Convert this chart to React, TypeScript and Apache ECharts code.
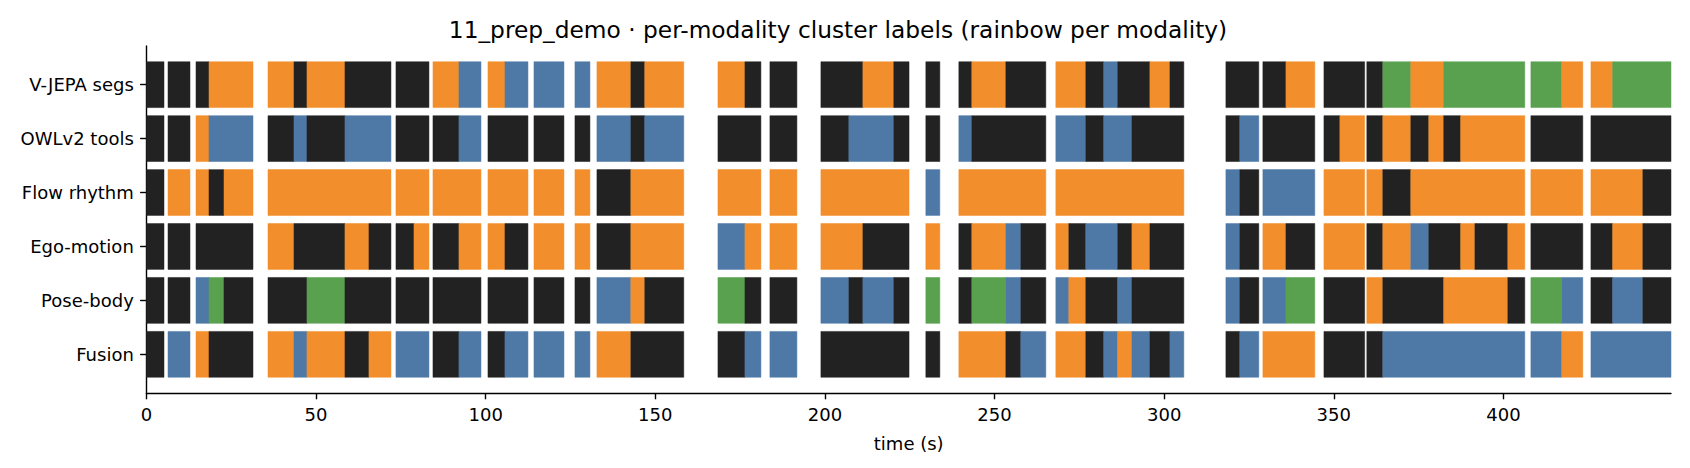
import React, { useEffect, useRef } from "react";
import * as echarts from "echarts";

// Segment windows (seconds)
const SEG_START = [0, 6.37, 14.62, 18.45, 22.87, 35.84, 43.5, 47.33, 58.53, 65.6, 73.56, 78.87, 84.47, 92.13, 100.68, 105.69, 114.24, 126.32, 132.8, 142.8, 146.9, 168.47, 176.43, 183.79, 198.82, 207.07, 211.2, 220.3, 229.75, 239.48, 243.31, 253.33, 257.75, 268.07, 271.9, 276.9, 282.2, 286.3, 290.5, 295.8, 301.7, 318.2, 322.3, 329.1, 335.9, 347.1, 351.8, 359.74, 364.45, 372.7, 378.0, 382.4, 387.4, 391.6, 401.3, 408.1, 417.2, 425.8, 432.2, 441.1];
const SEG_END = [5.19, 12.85, 18.45, 22.87, 31.42, 43.5, 47.33, 58.53, 65.6, 72.09, 78.87, 83.29, 92.13, 98.62, 105.69, 112.47, 123.08, 130.74, 142.8, 146.9, 158.4, 176.43, 181.14, 191.75, 207.07, 211.2, 220.3, 224.8, 233.88, 243.31, 253.33, 257.75, 265.12, 271.9, 276.9, 282.2, 286.3, 290.5, 295.8, 301.7, 305.8, 322.3, 327.9, 335.9, 344.4, 351.8, 359.1, 364.45, 372.7, 378.0, 382.4, 387.4, 391.6, 401.3, 406.3, 417.2, 423.4, 432.2, 441.1, 449.4];

// Cluster labels per modality (one per segment)
const VJEPA = [0,0,0,1,1,1,0,1,0,0, 0,0,1,2,1,2,2,2,1,0, 1,1,0,0,0,0,1,0,0,0, 1,0,0,1,1,0,2,0,0,1, 0,0,0,0,1,0,0,0,3,1, 1,3,3,3,3,3,1,1,3,3];
const OWL = [0,0,1,2,2,0,2,0,2,2, 0,0,0,2,0,0,0,0,2,0, 2,0,0,0,0,2,2,0,0,2, 0,0,0,2,2,0,2,2,0,0, 0,0,2,0,0,0,1,0,1,0, 1,0,1,1,1,0,0,0,0,0];
const FLOW = [0,1,1,0,1,1,1,1,1,1, 1,1,1,1,1,1,1,1,0,1, 1,1,1,1,1,1,1,1,2,1, 1,1,1,1,1,1,1,1,1,1, 1,2,0,2,2,1,1,1,0,1, 1,1,1,1,1,1,1,1,1,0];
const EGO = [0,0,0,0,0,1,0,0,1,0, 0,1,0,1,1,0,1,1,0,1, 1,2,1,1,1,1,0,0,1,0, 1,2,0,1,0,2,2,0,1,0, 0,2,0,1,0,1,1,0,1,2, 0,0,1,0,1,0,0,0,1,0];
const POSE = [0,0,2,3,0,0,0,3,0,0, 0,0,0,0,0,0,0,0,2,1, 0,3,0,0,2,0,2,0,3,0, 3,2,0,2,1,0,0,2,0,0, 0,2,0,2,3,0,0,1,0,0, 0,1,1,1,0,3,2,0,2,0];
const FUSION = [0,2,1,0,0,1,2,1,0,1, 2,2,0,2,0,2,2,2,1,0, 0,0,2,2,0,0,0,0,0,1, 1,0,2,1,1,0,2,1,2,0, 2,0,2,1,1,0,0,0,2,2, 2,2,2,2,2,2,1,2,2,2];

// Row names bottom -> top
const ROW_NAMES = ["Fusion", "Pose-body", "Ego-motion", "Flow rhythm", "OWLv2 tools", "V-JEPA segs"];
const ROW_LABELS = [FUSION, POSE, EGO, FLOW, OWL, VJEPA];
const CLUSTER_COLORS = ["#222222", "#F28E2B", "#4E79A7", "#59A14F"];
const X_TICKS = [0, 50, 100, 150, 200, 250, 300, 350, 400];
const Y_TICKS = [0, 1, 2, 3, 4, 5];
const X_MAX = 449.4;

const FONT = "DejaVu Sans";

export default function App() {
  const ref = useRef<HTMLDivElement>(null);
  useEffect(() => {
    if (!ref.current) return;
    const chart = echarts.init(ref.current, null, { renderer: "svg" });
    // merge contiguous segments that share a label, so no seams appear
    const data: number[][] = [];
    ROW_LABELS.forEach((labels, row) => {
      let cur: number[] | null = null;
      labels.forEach((lab, i) => {
        if (cur && cur[3] === lab && Math.abs(cur[1] - SEG_START[i]) < 1e-6) {
          cur[1] = SEG_END[i];
        } else {
          if (cur) data.push(cur);
          cur = [SEG_START[i], SEG_END[i], row, lab];
        }
      });
      if (cur) data.push(cur);
    });
    chart.setOption({
      animation: false,
      backgroundColor: "#ffffff",
      title: {
        text: "11_prep_demo · per-modality cluster labels (rainbow per modality)",
        left: 833,
        textAlign: "center",
        top: 13,
        textStyle: { fontFamily: FONT, fontSize: 23.3, fontWeight: "normal", color: "#000" },
      },
      grid: { left: 146.4, right: 19, top: 46, bottom: 75, containLabel: false },
      xAxis: {
        type: "value",
        min: 0,
        max: X_MAX,
        name: "time (s)",
        nameLocation: "middle",
        nameGap: 41,
        nameTextStyle: { fontFamily: FONT, fontSize: 18, color: "#000" },
        axisLine: { show: true, onZero: false, lineStyle: { color: "#000", width: 1.4 } },
        axisTick: { show: true, customValues: X_TICKS, length: 6.3, lineStyle: { color: "#000", width: 1.4 } },
        axisLabel: { customValues: X_TICKS, margin: 12, fontFamily: FONT, fontSize: 18, color: "#000" },
        splitLine: { show: false },
      },
      yAxis: {
        type: "value",
        min: -0.717,
        max: 5.717,
        axisLine: { show: true, onZero: false, lineStyle: { color: "#000", width: 1.4 } },
        axisTick: { show: true, customValues: Y_TICKS, length: 6.3, lineStyle: { color: "#000", width: 1.4 } },
        axisLabel: {
          customValues: Y_TICKS,
          margin: 12.6,
          fontFamily: FONT,
          fontSize: 18,
          color: "#000",
          formatter: (v: number) => ROW_NAMES[Math.round(v)] ?? "",
        },
        splitLine: { show: false },
      },
      series: [
        {
          type: "custom",
          silent: true,
          clip: true,
          encode: { x: [0, 1], y: 2 },
          data,
          renderItem: (params: any, api: any) => {
            const s = api.value(0);
            const e = api.value(1);
            const row = api.value(2);
            const lab = api.value(3);
            const p0 = api.coord([s, row]);
            const p1 = api.coord([e, row]);
            const h = api.size([0, 0.85])[1];
            const c = CLUSTER_COLORS[lab];
            return {
              type: "rect",
              shape: { x: p0[0], y: p0[1] - h / 2, width: p1[0] - p0[0], height: h },
              style: { fill: c, stroke: c, lineWidth: 0.5 },
            };
          },
        },
      ],
    });
    return () => chart.dispose();
  }, []);
  return (
    <div
      ref={ref}
      style={{ position: "absolute", left: 0, top: 0, width: 1690, height: 468 }}
    />
  );
}
